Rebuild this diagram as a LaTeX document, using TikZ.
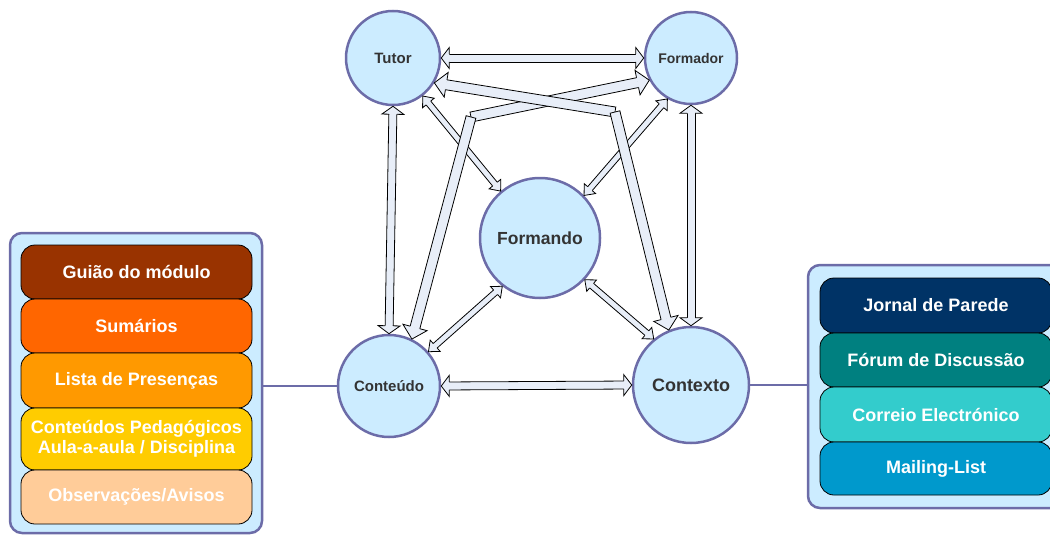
\documentclass[tikz,border=0pt]{standalone}
\usepackage{fontspec}
\setmainfont{Liberation Sans}
\usetikzlibrary{calc}

\definecolor{bubble}{RGB}{204,236,255}
\definecolor{rim}{RGB}{108,108,168}
\definecolor{shaftfill}{RGB}{232,238,248}
\definecolor{labelgray}{RGB}{51,51,51}
\definecolor{guiao}{RGB}{153,51,0}
\definecolor{sumarios}{RGB}{255,102,0}
\definecolor{presencas}{RGB}{255,153,0}
\definecolor{conteudos}{RGB}{255,204,0}
\definecolor{avisos}{RGB}{255,204,153}
\definecolor{jornal}{RGB}{0,51,102}
\definecolor{forum}{RGB}{0,128,128}
\definecolor{correio}{RGB}{51,204,204}
\definecolor{mailing}{RGB}{0,153,204}

\tikzset{
  actor/.style={circle, draw=rim, fill=bubble, line width=2.5pt, inner sep=0pt, text=labelgray},
  panel/.style={rectangle, rounded corners=12pt, draw=rim, fill=bubble, line width=2.5pt, inner sep=0pt},
  item/.style={rectangle, rounded corners=14pt, draw=black, line width=0.8pt, inner sep=0pt,
    text=white, align=center, font=\fontsize{18}{20}\selectfont\bfseries},
  arrbody/.style={fill=shaftfill, draw=black, line width=0.8pt, line join=miter},
  arrline/.style={draw=black, line width=0.8pt, line join=miter},
  link/.style={draw=rim, line width=2pt},
}

% rectangular shaft piece from #1 to #2, half width #3
\newcommand\shaftseg[3]{%
  \filldraw[arrbody] ($(#1)!#3!90:(#2)$) -- ($(#2)!#3!-90:(#1)$)
     -- ($(#2)!#3!90:(#1)$) -- ($(#1)!#3!-90:(#2)$) -- cycle;}

% block arrow head: tip #1, pointing away from #2, shaft half width #3,
% head half width #4, head length #5
\newcommand\arrhead[5]{%
  \path ($(#1)!#5!(#2)$) coordinate (hb);
  \fill[shaftfill] ($(hb)!#3!90:(#2)$) -- ($(hb)!#4!90:(#2)$) -- (#1)
     -- ($(hb)!#4!-90:(#2)$) -- ($(hb)!#3!-90:(#2)$) -- cycle;
  \draw[arrline] ($(hb)!#3!90:(#2)$) -- ($(hb)!#4!90:(#2)$) -- (#1)
     -- ($(hb)!#4!-90:(#2)$) -- ($(hb)!#3!-90:(#2)$);}

% straight double block arrow between #1 and #2
\newcommand\dblarrow[5]{%
  \path ($(#1)!#5!(#2)$) coordinate (da) ($(#2)!#5!(#1)$) coordinate (db);
  \path ($(da)!1pt!(#1)$) coordinate (dai) ($(db)!1pt!(#2)$) coordinate (dbi);
  \shaftseg{dai}{dbi}{#3}
  \arrhead{#1}{#2}{#3}{#4}{#5}
  \arrhead{#2}{#1}{#3}{#4}{#5}}

% double block arrow bent at joint #2, ends at #1 and #3
\newcommand\bentarrow[6]{%
  \path ($(#1)!#6!(#2)$) coordinate (ba) ($(#3)!#6!(#2)$) coordinate (bb);
  \path ($(ba)!1pt!(#1)$) coordinate (bai) ($(bb)!1pt!(#3)$) coordinate (bbi);
  \shaftseg{#2}{bai}{#4}
  \shaftseg{#2}{bbi}{#4}
  \arrhead{#1}{#2}{#4}{#5}{#6}
  \arrhead{#3}{#2}{#4}{#5}{#6}}

\begin{document}
\begin{tikzpicture}[x=1pt, y=-1pt]
\useasboundingbox (0,0) rectangle (1050,535);
\clip (0,0) rectangle (1050,535);

% side panels with their tools
\node[panel, minimum width=252pt, minimum height=300pt] (lpanel) at (136,383) {};
\node[item, fill=guiao, minimum width=231pt, minimum height=54pt] (guia) at (136.5,272) {Guião do módulo};
\node[item, fill=sumarios, minimum width=231pt, minimum height=54pt] (sum) at (136.5,326) {Sumários};
\node[item, fill=presencas, minimum width=231pt, minimum height=55pt] (lista) at (136.5,380.5) {Lista de Presenças};
\node[item, fill=conteudos, minimum width=231pt, minimum height=62pt] (cped) at (136.5,439) {Conteúdos Pedagógicos\\Aula-a-aula / Disciplina};
\node[item, fill=avisos, minimum width=231pt, minimum height=54pt] (obs) at (136.5,497) {Observações/Avisos};

\node[panel, minimum width=256pt, minimum height=243pt] (rpanel) at (936,386.5) {};
\node[item, fill=jornal, minimum width=232pt, minimum height=55pt] (jornal) at (936,305.5) {Jornal de Parede};
\node[item, fill=forum, minimum width=232pt, minimum height=54pt] (forum) at (936,360) {Fórum de Discussão};
\node[item, fill=correio, minimum width=232pt, minimum height=55pt] (correio) at (936,414.5) {Correio Electrónico};
\node[item, fill=mailing, minimum width=232pt, minimum height=53pt] (mail) at (936,468.5) {Mailing-List};

% actors
\node[actor, minimum size=94pt, font=\fontsize{15}{18}\selectfont\bfseries] (tutor) at (393,58) {Tutor};
\node[actor, minimum size=92pt, font=\fontsize{14}{17}\selectfont\bfseries] (formador) at (691,58) {Formador};
\node[actor, minimum size=120pt, font=\fontsize{17.5}{20}\selectfont\bfseries] (formando) at (540,238) {Formando};
\node[actor, minimum size=102pt, font=\fontsize{15}{18}\selectfont\bfseries] (conteudo) at (389,386) {Conteúdo};
\node[actor, minimum size=116pt, font=\fontsize{18}{21}\selectfont\bfseries] (contexto) at (691,385) {Contexto};

% panel links
\draw[link] (conteudo.west) -- (conteudo.west -| lpanel.east);
\draw[link] (contexto.east) -- (contexto.east -| rpanel.west);

% thin diagonal arrows to the learner
\dblarrow{tutor.-52}{formando.130}{3pt}{7.5pt}{9pt}
\dblarrow{formador.-120}{formando.44}{3pt}{7.5pt}{9pt}
\dblarrow{conteudo.41}{formando.-128}{3pt}{7.5pt}{9pt}
\dblarrow{formando.-43}{contexto.129}{3pt}{7.5pt}{9pt}

% outer square of arrows
\dblarrow{tutor.east}{formador.west}{4pt}{10.5pt}{8pt}
\dblarrow{tutor.south}{conteudo.north}{4pt}{11pt}{8pt}
\dblarrow{formador.south}{contexto.north}{4pt}{11pt}{8pt}
\dblarrow{conteudo.east}{contexto.west}{4pt}{10.5pt}{8pt}

% bent crossing arrows
\coordinate (j9) at (471,117);
\coordinate (j10) at (615,112);
\bentarrow{formador.208}{j9}{conteudo.64}{5pt}{12.5pt}{12pt}
\bentarrow{tutor.-31}{j10}{contexto.112}{5pt}{12.5pt}{12pt}
\end{tikzpicture}
\end{document}
